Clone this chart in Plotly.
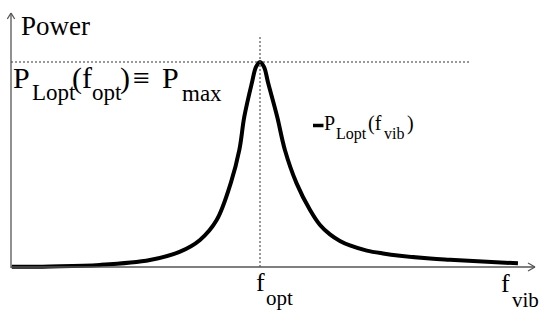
import plotly.graph_objects as go

# ---- data (normalised units: f / f_opt, P / P_max) ----
freq = [0.003, 0.157, 0.357, 0.558, 0.679, 0.759, 0.826, 0.884, 0.917, 0.937,
        0.967, 0.984, 1.000, 1.016, 1.033, 1.069, 1.100, 1.147, 1.201, 1.241,
        1.281, 1.321, 1.361, 1.429, 1.494, 1.562, 1.683, 1.763, 2.036]
power = [0.001, 0.003, 0.010, 0.034, 0.075, 0.132, 0.229, 0.415, 0.571, 0.733,
         0.896, 0.976, 1.000, 0.976, 0.896, 0.733, 0.571, 0.408, 0.278, 0.205,
         0.159, 0.127, 0.105, 0.080, 0.066, 0.055, 0.041, 0.035, 0.018]

W, H = 550, 319
FONT = "Liberation Serif"

fig = go.Figure()
fig.add_trace(go.Scatter(x=freq, y=power, mode="lines",
                         line=dict(color="black", width=4, shape="spline", smoothing=1.0),
                         hoverinfo="skip", showlegend=False))

i_peak = power.index(max(power))
f_opt = freq[i_peak]
p_max = power[i_peak]

# dotted guides
fig.add_shape(type="line", xref="x", yref="y", x0=0, x1=1.843, y0=p_max, y1=p_max,
              line=dict(color="#333", width=1, dash="2px,2px"))
fig.add_shape(type="line", xref="x", yref="y", x0=f_opt, x1=f_opt, y0=0, y1=1.132,
              line=dict(color="#333", width=1, dash="2px,2px"))


def px(xp, yp):
    return xp / W, 1 - yp / H


def pline(x0, y0, x1, y1, color="#555", width=1.3):
    a, b = px(x0, y0)
    c, d = px(x1, y1)
    fig.add_shape(type="line", xref="paper", yref="paper", x0=a, y0=b, x1=c, y1=d,
                  line=dict(color=color, width=width))


# axes with arrows
pline(11, 268, 11, 13)
pline(7.3, 19, 11, 13)
pline(14.7, 19, 11, 13)
pline(11, 267, 535, 267)
pline(528, 263, 535, 267)
pline(528, 271, 535, 267)

# legend-like dash
pline(313, 125.5, 323.5, 125.5, color="black", width=3.5)


def text_at(s, left, base, size):
    xc, yc = px(left, base - 0.3375 * size)
    fig.add_annotation(xref="paper", yref="paper", x=xc, y=yc, xanchor="left",
                       yanchor="middle", text=s, showarrow=False, borderpad=0,
                       font=dict(family=FONT, size=size, color="black"))


text_at("Power", 20, 35, 27)

text_at("P", 12, 88, 30)
text_at("Lopt", 31, 100.5, 23)
text_at("(f", 71, 88, 30)
text_at("opt", 91, 100.5, 23)
text_at(")", 119, 88, 30)
text_at("≡", 132, 88, 30)
text_at("P", 161, 88, 30)
text_at("max", 181, 101, 23)

text_at("P", 323, 130, 20)
text_at("Lopt", 335, 139.3, 16)
text_at("(f", 367, 130, 20)
text_at("vib", 383, 139, 16)
text_at(")", 406, 130, 20)

text_at("f", 255, 291.7, 26)
text_at("opt", 265, 305.5, 21)
text_at("f", 500, 292, 26)
text_at("vib", 511, 307, 21)

fig.update_layout(
    width=W, height=H, margin=dict(l=0, r=0, t=0, b=0),
    font=dict(family=FONT, color="black"),
    plot_bgcolor="white", paper_bgcolor="white", showlegend=False,
    xaxis=dict(visible=False, range=[-11 / 249, 539 / 249], fixedrange=True),
    yaxis=dict(visible=False, range=[-52 / 205, 267 / 205], fixedrange=True),
)

fig.write_html("out.html")
